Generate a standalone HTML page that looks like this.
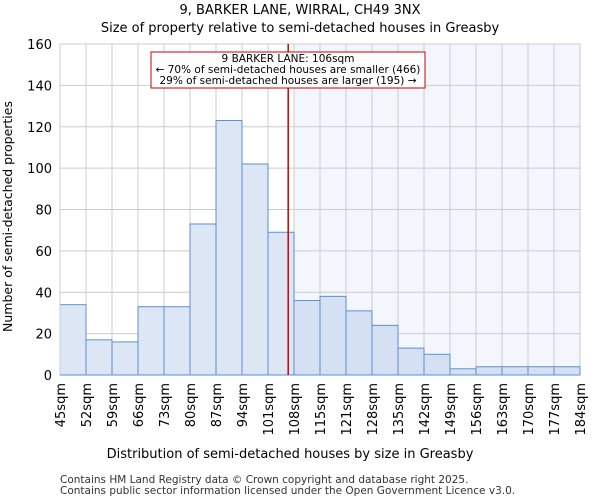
<!DOCTYPE html>
<html><head><meta charset="utf-8"><style>
body{margin:0;background:#fff;font-family:"DejaVu Sans","Liberation Sans",sans-serif}
</style></head><body>
<svg id="c" width="600" height="500" style="font-family:'DejaVu Sans','Liberation Sans',sans-serif"></svg>
<script>
const tickLabels=["45sqm","52sqm","59sqm","66sqm","73sqm","80sqm","87sqm","94sqm","101sqm","108sqm","115sqm","121sqm","128sqm","135sqm","142sqm","149sqm","156sqm","163sqm","170sqm","177sqm","184sqm"];
const counts=[34,17,16,33,33,73,123,102,69,36,38,31,24,13,10,3,4,4,4,4];
const yTicks=[0,20,40,60,80,100,120,140,160];
const binStart=45, binStep=6.95;
const markerValue=106;
const svg=document.getElementById('c');const NS='http://www.w3.org/2000/svg';
function mk(t,a,txt){const e=document.createElementNS(NS,t);for(const k in a)e.setAttribute(k,a[k]);if(txt!==undefined)e.textContent=txt;svg.appendChild(e);return e;}
const L=60,R=580,T=44,B=375,bw=(R-L)/counts.length;
const y=v=>B-(v/160)*(B-T);
const xv=v=>L+(v-binStart)/binStep*bw;
let e;
e=mk('text',{x:300,y:14,'text-anchor':'middle','font-size':13},'9, BARKER LANE, WIRRAL, CH49 3NX');

e=mk('text',{x:300,y:32,'text-anchor':'middle','font-size':13},'Size of property relative to semi-detached houses in Greasby');

const mx=xv(markerValue);
e=mk('rect',{x:L+9*bw,y:T,width:R-(L+9*bw),height:B-T,fill:'#f3f6fd'});

yTicks.forEach(t=>{e=mk('line',{x1:L,x2:R,y1:y(t),y2:y(t),stroke:'#ccc','stroke-width':1});

e=mk('text',{x:L-8,y:y(t)+5,'text-anchor':'end','font-size':13},t);
});
tickLabels.forEach((t,i)=>{const x=L+i*bw;
e=mk('line',{x1:x,x2:x,y1:T,y2:B,stroke:'#ccc','stroke-width':1});

e=mk('text',{x:x+5,y:B+8,'text-anchor':'end','font-size':13,transform:`rotate(-90 ${x+5} ${B+8})`},t);
});
counts.forEach((c,i)=>{e=mk('rect',{x:L+i*bw,y:y(c),width:bw,height:B-y(c),fill:i>=9?'#d5e1f3':'#dde6f4',stroke:'#5b8fd6','stroke-width':1});
});
e=mk('line',{x1:L,x2:L,y1:T,y2:B,stroke:'#ccc'});
e=mk('line',{x1:mx,x2:mx,y1:T,y2:B,stroke:'#cc0000','stroke-width':1.5});

e=mk('rect',{x:151,y:52,width:274,height:36,fill:'#fff',stroke:'#cc0000','stroke-width':1});

[['9 BARKER LANE: 106sqm',62],['← 70% of semi-detached houses are smaller (466)',73],['29% of semi-detached houses are larger (195) →',84]].forEach(([t,yy])=>{
e=mk('text',{x:288,y:yy,'text-anchor':'middle','font-size':10.5},t);
});
e=mk('text',{x:0,y:0,'text-anchor':'middle','font-size':12.5,transform:`translate(12 ${(T+B)/2+7}) rotate(-90)`},'Number of semi-detached properties');

e=mk('text',{x:290,y:458,'text-anchor':'middle','font-size':13},'Distribution of semi-detached houses by size in Greasby');

e=mk('text',{x:60,y:483,'font-size':10.5,fill:'#333'},'Contains HM Land Registry data © Crown copyright and database right 2025.');

e=mk('text',{x:60,y:494,'font-size':10.5,fill:'#333'},'Contains public sector information licensed under the Open Government Licence v3.0.');

</script>
</body></html>
